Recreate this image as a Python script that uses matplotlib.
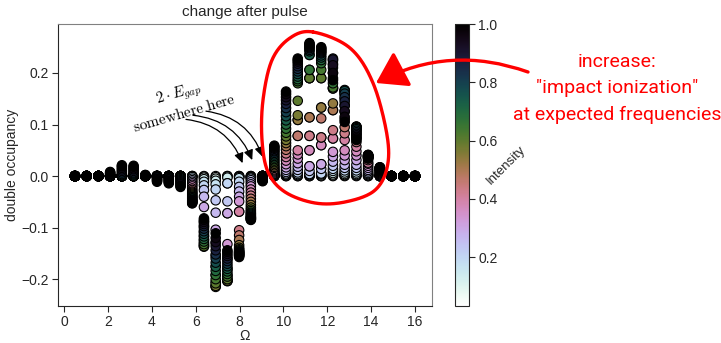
import numpy as np
import matplotlib
matplotlib.use("Agg")
import matplotlib.pyplot as plt
from matplotlib.patches import FancyArrowPatch

plt.rcParams.update({
    "font.family": ["Liberation Sans", "DejaVu Sans"],
    "font.size": 10,
    "mathtext.fontset": "cm",
    "axes.edgecolor": "0.15",
    "xtick.color": "0.15",
    "ytick.color": "0.15",
    "text.color": "0.15",
    "axes.labelcolor": "0.15",
})

# drive frequencies (x) and pulse intensities (colour)
omega = [0.5, 1.034, 1.569, 2.103, 2.638, 3.172, 3.707, 4.241, 4.776, 5.31,
         5.845, 6.379, 6.914, 7.448, 7.983, 8.517, 9.052, 9.586, 10.121, 10.655,
         11.19, 11.724, 12.259, 12.793, 13.328, 13.862, 14.397, 14.931, 15.466, 16.0]
intensity = [0.033, 0.067, 0.1, 0.133, 0.167, 0.2, 0.233, 0.267, 0.3, 0.333,
             0.367, 0.4, 0.433, 0.467, 0.5, 0.533, 0.567, 0.6, 0.633, 0.667,
             0.7, 0.733, 0.767, 0.8, 0.833, 0.867, 0.9, 0.933, 0.967, 1.0]

# change of double occupancy, one list per omega, ordered by intensity
dd01 = [0, 0, 0, 0, 0, 0, 0, 0, 0, 0, 0, 0, 0, 0, 0, 0, 0, 0, 0, 0, 0, 0, 0, 0, 0, 0, 0, 0, 0, 0]
dd02 = [0, 0, 0, 0, 0, 0, 0, 0, 0, 0, 0, 0, 0, 0, 0, 0, 0, 0, 0, 0, 0, 0, 0, 0, 0, 0, 0, 0, 0, 0]
dd03 = [0, 0, 0, 0, 0, 0, 0, 0, 0, 0, 0, 0, 0, 0, 0, 0, 0, 0, 0, 0, 0, 0, 0, 0, 0, 0, 0, 0, 0, 0]
dd04 = [0, 0, 0, 0, 0, 0, 0, 0, 0, 0, 0, 0, 0, 0, 0, 0, 0, 0, 0, 0, 0, 0, 0, 0,
        0.001, 0.002, 0.004, 0.005, 0.007, 0.008]
dd05 = [0, 0, 0, 0, 0, 0, 0, 0, 0, 0, 0, 0, 0, 0, 0, 0, 0, 0, 0, 0, 0, 0,
        0.002, 0.004, 0.007, 0.010, 0.013, 0.016, 0.019, 0.021]
dd06 = [0, 0, 0, 0, 0, 0, 0, 0, 0, 0, 0, 0, 0, 0, 0, 0, 0, 0, 0, 0, 0,
        0.001, 0.003, 0.005, 0.007, 0.010, 0.013, 0.015, 0.018, 0.020]
dd07 = [0, 0, 0, 0, 0, 0, 0, 0, 0, 0, 0, 0, 0, 0, 0, 0, 0, 0, 0, 0, 0, 0, 0, 0,
        0, 0, 0, 0.001, 0.002, 0.002]
dd08 = [0, 0, 0, 0, 0, 0, 0, 0, 0, 0, 0, 0, 0, 0, 0, 0, 0, 0, 0, 0, 0, 0,
        -0.001, -0.002, -0.003, -0.005, -0.006, -0.008, -0.009, -0.011]
dd09 = [0, 0, 0, 0, 0, 0, 0, 0, 0, 0, 0, 0, 0, 0, 0, 0, 0, 0, 0, 0,
        -0.001, -0.002, -0.003, -0.004, -0.006, -0.007, -0.009, -0.010, -0.012, -0.014]
dd10 = [0, 0, 0, 0, 0, 0, 0, 0, 0, 0, 0, 0, 0, 0, 0, 0, 0, 0,
        -0.001, -0.002, -0.003, -0.004, -0.006, -0.008, -0.010, -0.012, -0.014, -0.016,
        -0.019, -0.021]
dd11 = [0.0, 0.0, 0.0, -0.001, -0.002, -0.005, -0.008, -0.011, -0.014, -0.017,
        -0.020, -0.024, -0.027, -0.030, -0.032, -0.034, -0.036, -0.038, -0.040, -0.041,
        -0.043, -0.044, -0.046, -0.047, -0.048, -0.049, -0.050, -0.051, -0.052, -0.053]
dd12 = [0.0, -0.001, -0.003, -0.006, -0.011, -0.018, -0.027, -0.040, -0.060, -0.088,
        -0.098, -0.108, -0.116, -0.124, -0.130, -0.134, -0.137, -0.136, -0.132, -0.127,
        -0.122, -0.117, -0.112, -0.107, -0.102, -0.097, -0.093, -0.089, -0.085, -0.082]
dd13 = [0.0, -0.002, -0.005, -0.009, -0.016, -0.026, -0.047, -0.071, -0.104, -0.130,
        -0.155, -0.175, -0.192, -0.205, -0.213, -0.215, -0.213, -0.208, -0.200, -0.192,
        -0.184, -0.176, -0.168, -0.160, -0.152, -0.144, -0.136, -0.128, -0.120, -0.111]
dd14 = [0.0, 0.0, -0.001, -0.003, -0.014, -0.014, -0.049, -0.072, -0.072, -0.132,
        -0.160, -0.180, -0.193, -0.200, -0.203, -0.204, -0.203, -0.200, -0.195, -0.190,
        -0.185, -0.180, -0.175, -0.170, -0.165, -0.160, -0.155, -0.151, -0.147, -0.144]
dd15 = [0.0, 0.0, -0.001, -0.002, -0.004, -0.011, -0.021, -0.030, -0.040, -0.049,
        -0.069, -0.069, -0.105, -0.115, -0.124, -0.134, -0.139, -0.142, -0.144, -0.146,
        -0.147, -0.148, -0.149, -0.150, -0.151, -0.152, -0.153, -0.154, -0.155, -0.157]
dd16 = [0.0, 0.0, -0.001, -0.002, -0.003, -0.005, -0.008, -0.012, -0.016, -0.020,
        -0.026, -0.032, -0.038, -0.044, -0.050, -0.056, -0.061, -0.065, -0.068, -0.071,
        -0.073, -0.075, -0.077, -0.079, -0.080, -0.081, -0.082, -0.083, -0.084, -0.085]
dd17 = [0, 0, 0, 0, 0, 0, 0, 0, 0, 0, 0, 0, 0, 0, 0, 0, 0, 0, 0, 0,
        -0.001, -0.002, -0.003, -0.004, -0.005, -0.006, -0.007, -0.008, -0.009, -0.010]
dd18 = [0.0, 0.0, 0.0, 0.001, 0.001, 0.002, 0.003, 0.004, 0.005, 0.007,
        0.009, 0.011, 0.013, 0.016, 0.018, 0.021, 0.024, 0.027, 0.030, 0.033,
        0.036, 0.039, 0.042, 0.045, 0.048, 0.050, 0.053, 0.055, 0.057, 0.059]
dd19 = [0.0, 0.0, 0.001, 0.002, 0.003, 0.005, 0.008, 0.012, 0.017, 0.023,
        0.030, 0.037, 0.044, 0.051, 0.058, 0.064, 0.070, 0.077, 0.084, 0.092,
        0.100, 0.108, 0.116, 0.124, 0.132, 0.140, 0.147, 0.153, 0.159, 0.164]
dd20 = [0.0, 0.0, 0.001, 0.002, 0.004, 0.007, 0.012, 0.018, 0.025, 0.034,
        0.042, 0.050, 0.078, 0.078, 0.109, 0.109, 0.118, 0.146, 0.180, 0.184,
        0.188, 0.193, 0.198, 0.203, 0.208, 0.213, 0.218, 0.222, 0.225, 0.228]
dd21 = [0.0, 0.0, 0.001, 0.002, 0.004, 0.004, 0.010, 0.019, 0.019, 0.050,
        0.050, 0.078, 0.078, 0.114, 0.114, 0.190, 0.190, 0.190, 0.206, 0.206,
        0.235, 0.235, 0.242, 0.245, 0.248, 0.250, 0.252, 0.254, 0.256, 0.258]
dd22 = [0.0, 0.0, 0.001, 0.003, 0.005, 0.005, 0.014, 0.023, 0.023, 0.060,
        0.060, 0.075, 0.075, 0.112, 0.133, 0.133, 0.190, 0.190, 0.206, 0.219,
        0.225, 0.230, 0.234, 0.238, 0.240, 0.242, 0.244, 0.246, 0.248, 0.250]
dd23 = [0.0, 0.001, 0.003, 0.006, 0.010, 0.014, 0.020, 0.028, 0.038, 0.047,
        0.073, 0.073, 0.089, 0.128, 0.128, 0.141, 0.170, 0.170, 0.172, 0.180,
        0.190, 0.200, 0.210, 0.218, 0.224, 0.228, 0.226, 0.215, 0.200, 0.186]
dd24 = [0.0, 0.001, 0.002, 0.004, 0.007, 0.011, 0.016, 0.022, 0.031, 0.040,
        0.050, 0.070, 0.083, 0.095, 0.110, 0.125, 0.138, 0.150, 0.158, 0.163,
        0.166, 0.167, 0.165, 0.160, 0.153, 0.145, 0.136, 0.126, 0.115, 0.105]
dd25 = [0.0, 0.001, 0.002, 0.004, 0.007, 0.011, 0.016, 0.022, 0.031, 0.040,
        0.048, 0.057, 0.066, 0.074, 0.081, 0.087, 0.091, 0.094, 0.096, 0.096,
        0.095, 0.093, 0.091, 0.088, 0.085, 0.082, 0.079, 0.076, 0.073, 0.070]
dd26 = [0.0, 0.0, 0.001, 0.002, 0.004, 0.006, 0.009, 0.012, 0.016, 0.020,
        0.024, 0.026, 0.031, 0.034, 0.035, 0.035, 0.036, 0.036, 0.037, 0.037,
        0.038, 0.038, 0.038, 0.039, 0.039, 0.040, 0.040, 0.040, 0.041, 0.041]
dd27 = [0, 0, 0, 0, 0, 0, 0.001, 0.002, 0.003, 0.004,
        0.005, 0.006, 0.007, 0.008, 0.009, 0.010, 0.011, 0.012, 0.012, 0.013,
        0.013, 0.014, 0.014, 0.015, 0.015, 0.016, 0.016, 0.016, 0.017, 0.017]
dd28 = [0, 0, 0, 0, 0, 0, 0, 0, 0, 0, 0, 0, 0, 0, 0, 0, 0, 0, 0, 0, 0, 0, 0, 0, 0, 0, 0, 0, 0, 0]
dd29 = [0, 0, 0, 0, 0, 0, 0, 0, 0, 0, 0, 0, 0, 0, 0, 0, 0, 0, 0, 0, 0, 0, 0, 0, 0, 0, 0, 0, 0, 0]
dd30 = [0, 0, 0, 0, 0, 0, 0, 0, 0, 0, 0, 0, 0, 0, 0, 0, 0, 0, 0, 0, 0, 0, 0, 0, 0, 0, 0, 0, 0, 0]

columns = [dd01, dd02, dd03, dd04, dd05, dd06, dd07, dd08, dd09, dd10,
           dd11, dd12, dd13, dd14, dd15, dd16, dd17, dd18, dd19, dd20,
           dd21, dd22, dd23, dd24, dd25, dd26, dd27, dd28, dd29, dd30]

xs, ys, cs = [], [], []
for w, col in zip(omega, columns):
    xs += [w] * len(intensity)
    ys += col
    cs += intensity

fig = plt.figure(figsize=(7.21, 3.43), dpi=100)
ax = fig.add_axes([0.0804, 0.1079, 0.5188, 0.8221])
cax = fig.add_axes([0.631, 0.1079, 0.0195, 0.8221])

sc = ax.scatter(xs, ys, c=cs, cmap="cubehelix_r", s=46, edgecolors="k", linewidths=0.8)
ax.set_ylim(-0.252, 0.295)
ax.set_xticks(range(0, 17, 2))
ax.set_yticks([-0.2, -0.1, 0.0, 0.1, 0.2])
ax.set_xlabel("Ω", labelpad=0)
ax.set_ylabel("double occupancy", labelpad=2)
ax.set_title("change after pulse", fontsize=11)
ax.spines["top"].set_color("0.5")
ax.spines["right"].set_color("0.5")
ax.tick_params(direction="out", length=4, pad=2.5)

cb = fig.colorbar(sc, cax=cax)
cb.set_ticks([0.2, 0.4, 0.6, 0.8, 1.0])
cb.ax.tick_params(direction="out", length=4, pad=2.5)
cb.ax.text(3.6, 0.5, "Intensity", transform=cb.ax.transAxes, rotation=45,
           ha="center", va="center", fontsize=9.5)

# "2 E_gap" hint with arrows
ax.text(5.33, 0.142, "$2 \\cdot E_{gap}$\n$\\mathrm{somewhere\\ here}$", rotation=16,
        ha="center", va="center", multialignment="center", fontsize=11, color="k")
tails = [(5.56, 0.110), (5.88, 0.118), (6.47, 0.126)]
heads = [(8.14, 0.025), (8.58, 0.031), (9.06, 0.037)]
for t, h in zip(tails, heads):
    ax.annotate("", xy=h, xytext=t,
                arrowprops=dict(arrowstyle="-|>,head_length=0.6,head_width=0.28",
                                connectionstyle="arc3,rad=-0.3", color="k", lw=0.9,
                                shrinkA=0, shrinkB=0))

# red hand-drawn overlay, in pixel coordinates
ov = fig.add_axes([0, 0, 1, 1], zorder=10)
ov.set_xlim(0, 721)
ov.set_ylim(343, 0)
ov.axis("off")


def closed_spline(pts, n=24):
    p = np.asarray(pts, float)
    out = []
    m = len(p)
    for i in range(m):
        p0, p1, p2, p3 = p[i - 1], p[i], p[(i + 1) % m], p[(i + 2) % m]
        t = np.linspace(0, 1, n, endpoint=False)[:, None]
        out.append(0.5 * (2 * p1 + (-p0 + p2) * t + (2 * p0 - 5 * p1 + 4 * p2 - p3) * t ** 2
                          + (-p0 + 3 * p1 - 3 * p2 + p3) * t ** 3))
    out = np.vstack(out)
    return np.vstack([out, out[:1]])


loop = closed_spline([(313, 32), (350, 48), (373, 83), (387, 135), (387, 168), (374, 191),
                      (345, 202), (315, 203), (285, 192), (268, 172), (262, 140),
                      (263, 100), (272, 60), (290, 38)])
ov.plot(loop[:, 0], loop[:, 1], color="#ff0000", lw=2.4, solid_capstyle="round")

arr = FancyArrowPatch((528, 72), (376, 83), connectionstyle="arc3,rad=0.22",
                      arrowstyle="-|>,head_length=1.15,head_width=0.75", mutation_scale=16,
                      color="#ff0000", lw=2.4, shrinkA=0, shrinkB=0)
ov.add_patch(arr)

for line, y in [("increase:", 62), ('"impact ionization"', 88), ("at expected frequencies", 115)]:
    ov.text(617, y, line, ha="center", va="center", color="#ff0000",
            fontsize=14, family=["Roboto", "DejaVu Sans"])

fig.savefig("out.png", dpi=100)
